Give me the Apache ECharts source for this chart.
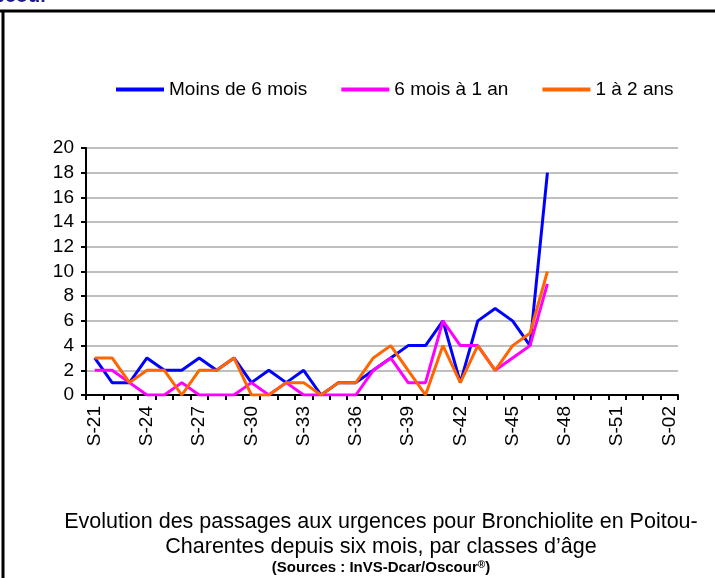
<!DOCTYPE html>
<html>
<head>
<meta charset="utf-8">
<script src="https://cdn.jsdelivr.net/npm/echarts@6/dist/echarts.min.js"></script>
<style>
  html, body { margin: 0; padding: 0; background: #fff; }
  #chart { width: 715px; height: 578px; }
</style>
</head>
<body>
<div id="chart"></div>
<script>
// weeks S-21 .. S-52 then S-01, S-02
const weeks = ['S-21','S-22','S-23','S-24','S-25','S-26','S-27','S-28','S-29','S-30',
  'S-31','S-32','S-33','S-34','S-35','S-36','S-37','S-38','S-39','S-40',
  'S-41','S-42','S-43','S-44','S-45','S-46','S-47','S-48','S-49','S-50',
  'S-51','S-52','S-01','S-02']

const moins6mois = [3,1,1,3,2,2,3,2,3,1,2,1,2,0,1,1,2,3,4,4,6,1,6,7,6,4,18]
const sixMoisUnAn = [2,2,1,0,0,1,0,0,0,1,0,1,0,0,0,0,2,3,1,1,6,4,4,2,3,4,9]
const unDeuxAns = [3,3,1,2,2,0,2,2,3,0,0,1,1,0,1,1,3,4,2,0,4,1,4,2,4,5,10]

const font = 'Liberation Sans, Arial, sans-serif'

const chart = echarts.init(document.getElementById('chart'))

const lineSeries = (name, data, color) => ({
  name: name,
  type: 'line',
  data: data,
  symbol: 'none',
  color: color,
  lineStyle: { width: 3, color: color },
  animation: false
})

chart.setOption({
  backgroundColor: '#fff',
  textStyle: { fontFamily: font },
  grid: { left: 86, right: 37, top: 148, bottom: 183 },
  legend: {
    left: 111,
    top: 75,
    icon: 'rect',
    itemWidth: 48,
    itemHeight: 4,
    itemGap: 34,
    textStyle: { fontSize: 19, color: '#000', fontFamily: font },
    data: ['Moins de 6 mois', '6 mois à 1 an', '1 à 2 ans']
  },
  xAxis: {
    type: 'category',
    data: weeks,
    boundaryGap: true,
    axisLine: { lineStyle: { color: '#000', width: 2 } },
    axisTick: { show: true, interval: 0, length: 5, lineStyle: { color: '#000', width: 2 } },
    axisLabel: { interval: 2, rotate: 90, fontSize: 19, color: '#000', margin: 11, fontFamily: font },
    splitLine: { show: false }
  },
  yAxis: {
    type: 'value',
    min: 0,
    max: 20,
    interval: 2,
    axisLine: { show: true, lineStyle: { color: '#000', width: 2 } },
    axisTick: { show: true, length: 5, lineStyle: { color: '#000', width: 2 } },
    axisLabel: { fontSize: 19, color: '#000', margin: 12, fontFamily: font },
    splitLine: { lineStyle: { color: '#c0c0c0', width: 2 } }
  },
  title: {
    left: 376,
    top: 505,
    textAlign: 'center',
    text: 'Evolution des passages aux urgences pour Bronchiolite en Poitou-\nCharentes depuis six mois, par classes d\u2019âge',
    textStyle: { fontSize: 21.5, fontWeight: 'normal', color: '#000', lineHeight: 25, fontFamily: font },
    subtext: '{b|(Sources : InVS-Dcar/Oscour}{s|®}{b|)}',
    itemGap: 0,
    subtextStyle: {
      rich: {
        b: { fontSize: 15, fontWeight: 'bold', color: '#000', fontFamily: font },
        s: { fontSize: 10, fontWeight: 'bold', color: '#000', fontFamily: font, verticalAlign: 'top', padding: [0, 0, 6, 0] }
      }
    }
  },
  graphic: [
    { type: 'line', shape: { x1: 0, y1: 11, x2: 715, y2: 11 }, style: { stroke: '#000', lineWidth: 3 } },
    { type: 'line', shape: { x1: 3, y1: 11, x2: 3, y2: 578 }, style: { stroke: '#000', lineWidth: 3 } },
    { type: 'text', right: 667, top: -14,
      style: { text: 'Oscour', font: 'bold 20px ' + font, fill: '#1c1c8f' } }
  ],
  series: [
    lineSeries('Moins de 6 mois', moins6mois, '#0000ff'),
    lineSeries('6 mois à 1 an', sixMoisUnAn, '#ff00ff'),
    lineSeries('1 à 2 ans', unDeuxAns, '#ff6600')
  ]
})
</script>
</body>
</html>
